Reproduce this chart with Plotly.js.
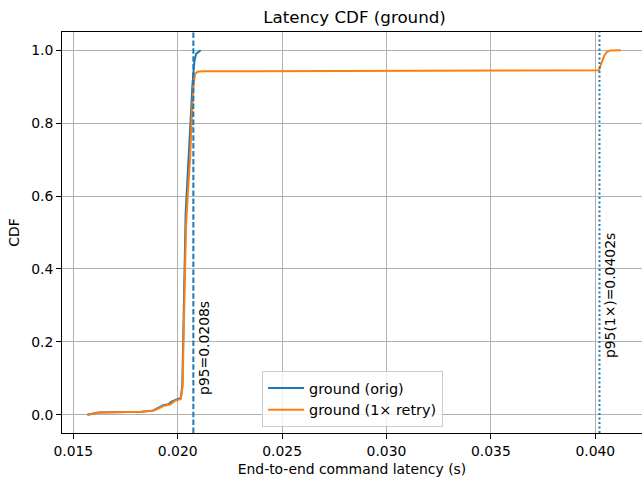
<!DOCTYPE html>
<html>
<head>
<meta charset="utf-8">
<script src="https://cdn.plot.ly/plotly-3.0.1.min.js"></script>
<style>html,body{margin:0;padding:0;overflow:hidden;background:#fff}</style>
</head>
<body>
<div id="chart" style="width:642px;height:483px"></div>
<script>
// Data
const origLatency = [0.01567, 0.01620, 0.01828, 0.01883, 0.01907, 0.01931, 0.01955, 0.01971, 0.01990, 0.02015, 0.02022, 0.02026, 0.02031, 0.02038, 0.02047, 0.02055, 0.02063, 0.02070, 0.02075, 0.02080, 0.02088, 0.02100, 0.02110];
const origCdf     = [0.000, 0.006, 0.008, 0.012, 0.019, 0.026, 0.029, 0.036, 0.041, 0.046, 0.080, 0.200, 0.400, 0.550, 0.650, 0.720, 0.820, 0.900, 0.950, 0.970, 0.990, 0.997, 1.000];
const retryLatency = [0.01570, 0.01628, 0.01828, 0.01883, 0.01907, 0.01931, 0.01963, 0.01987, 0.02015, 0.02024, 0.02027, 0.02032, 0.02040, 0.02050, 0.02059, 0.02068, 0.02075, 0.02083, 0.02095, 0.02120, 0.03000, 0.04018, 0.04025, 0.04031, 0.04042, 0.04055, 0.04070, 0.04122];
const retryCdf     = [0.000, 0.006, 0.008, 0.011, 0.017, 0.024, 0.028, 0.038, 0.043, 0.080, 0.180, 0.350, 0.520, 0.620, 0.700, 0.820, 0.900, 0.935, 0.941, 0.942, 0.943, 0.945, 0.958, 0.968, 0.984, 0.995, 0.999, 1.000];
const p95Values = [0.02075, 0.0402];
const p95Labels = ["p95=0.0208s", "p95(1×)=0.0402s"];
const p95LabelY = [0.05, 0.15];
const seriesNames = ["ground (orig)", "ground (1× retry)"];
const xTicks = [0.015, 0.020, 0.025, 0.030, 0.035, 0.040];
const yTicks = [0.0, 0.2, 0.4, 0.6, 0.8, 1.0];

const blue = '#1f77b4', orange = '#ff7f0e';
const FONT = 'DejaVu Sans, sans-serif';

const traces = [
  {x: origLatency, y: origCdf, mode: 'lines', name: seriesNames[0], line: {color: blue, width: 2}},
  {x: retryLatency, y: retryCdf, mode: 'lines', name: seriesNames[1], line: {color: orange, width: 2}}
];

const dashes = ['5.5px,2.4px', '2px,2.5px'];
const shapes = p95Values.map((v, i) => ({
  type: 'line', xref: 'x', yref: 'paper', x0: v, x1: v, y0: 0, y1: 1,
  line: {color: blue, width: 2, dash: dashes[i]}, layer: 'above'
}));
const annotations = p95Values.map((v, i) => ({
  x: v, y: p95LabelY[i], xref: 'x', yref: 'y', text: p95Labels[i], showarrow: false,
  textangle: -90, xanchor: 'left', yanchor: 'bottom', xshift: 0,
  font: {family: FONT, size: 13.9, color: '#000'}
}));

const layout = {
  width: 642, height: 483,
  margin: {l: 62, r: 0, t: 32, b: 50, pad: 0},
  paper_bgcolor: '#fff', plot_bgcolor: '#fff',
  font: {family: FONT, size: 13.9, color: '#000'},
  title: {text: 'Latency CDF (ground)', font: {family: FONT, size: 16.7, color: '#000'},
          x: 0.5043, xref: 'paper', xanchor: 'center', y: 1 - 17/483, yref: 'container', yanchor: 'middle'},
  xaxis: {
    range: [0.014459, 0.042236], tickvals: xTicks, tickformat: '.3f',
    showgrid: true, gridcolor: '#b0b0b0', gridwidth: 1,
    showline: true, linecolor: '#000', linewidth: 1, mirror: true,
    ticks: 'outside', ticklen: 5, tickwidth: 1, tickcolor: '#000',
    zeroline: false,
    title: {text: 'End-to-end command latency (s)', font: {family: FONT, size: 13.9}, standoff: 6},
    automargin: false
  },
  yaxis: {
    range: [-0.05, 1.05], tickvals: yTicks, tickformat: '.1f',
    showgrid: true, gridcolor: '#b0b0b0', gridwidth: 1,
    showline: true, linecolor: '#000', linewidth: 1, mirror: false,
    ticks: 'outside', ticklen: 5, tickwidth: 1, tickcolor: '#000',
    zeroline: false,
    title: {text: 'CDF', font: {family: FONT, size: 13.9}, standoff: 8},
    automargin: false
  },
  showlegend: true,
  legend: {
    x: 0.345, y: 0.0145, xanchor: 'left', yanchor: 'bottom',
    bgcolor: 'rgba(255,255,255,0.8)', bordercolor: '#cccccc', borderwidth: 1,
    font: {family: FONT, size: 14.4}, itemwidth: 36
  },
  shapes: shapes,
  annotations: annotations
};

Plotly.newPlot('chart', traces, layout, {displayModeBar: false, staticPlot: true});
</script>
</body>
</html>
